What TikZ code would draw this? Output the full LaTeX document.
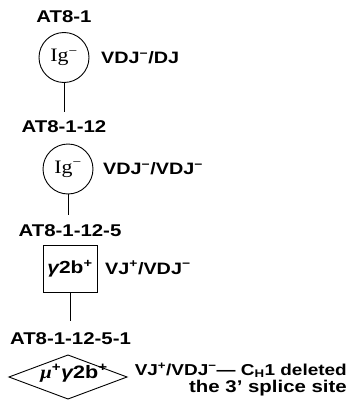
\documentclass[tikz,border=0pt]{standalone}
\usepackage{fontspec}
\setmainfont{Liberation Sans}[FakeStretch=1.2]
\newfontfamily\igfont{Liberation Serif}[FakeStretch=1.15]
\usetikzlibrary{shapes.geometric}
\tikzset{
  lbl/.style={font=\fontsize{17}{19}\selectfont\bfseries, inner sep=0pt},
  desc/.style={font=\fontsize{16.5}{19}\selectfont\bfseries, inner sep=0pt},
  cellc/.style={draw, circle, line width=0.9pt, minimum size=50pt, inner sep=0pt, font=\igfont\fontsize{19}{20}\selectfont},
  cellb/.style={draw, rectangle, line width=0.9pt, minimum width=54pt, minimum height=47pt, inner sep=0pt, font=\fontsize{17.5}{19}\selectfont\bfseries},
  celltext/.style={inner sep=0pt, font=\fontsize{18}{19}\selectfont\bfseries},
  link/.style={line width=0.9pt}
}
\begin{document}
\begin{tikzpicture}[x=1pt,y=-1pt]
\useasboundingbox (0,0) rectangle (353,404);
% labels
\node[lbl, anchor=base] (l1) at (64,23) {AT8-1};
\node[lbl, anchor=base] (l2) at (64,132) {AT8-1-12};
\node[lbl, anchor=base] (l3) at (70,236) {AT8-1-12-5};
\node[lbl, anchor=base] (l4) at (70.5,344) {AT8-1-12-5-1};
% cells
\node[cellc] (c1) at (64,57.5) {Ig\textsuperscript{−}};
\node[cellc] (c2) at (68,169) {Ig\textsuperscript{−}};
\node[cellb] (c3) at (70,268.5) {{\itshape γ}2b\textsuperscript{+}};
\coordinate (dc) at (68,377);
\draw[link, line join=miter] ([xshift=-59pt]dc) -- ([yshift=22pt]dc) -- ([xshift=59pt]dc) -- ([yshift=-22pt]dc) -- cycle;
\node[celltext, anchor=base] (c4) at (74,378) {{\igfont\itshape μ}\textsuperscript{+}{\itshape γ}2b\textsuperscript{+}};
% descriptions
\node[desc, anchor=base west] (d1) at (101,63.5) {VDJ\textsuperscript{−}/DJ};
\node[desc, anchor=base west] (d2) at (103,174.5) {VDJ\textsuperscript{−}/VDJ\textsuperscript{−}};
\node[desc, anchor=base west] (d3) at (105,274) {VJ\textsuperscript{+}/VDJ\textsuperscript{−}};
\node[desc, anchor=base east, font=\fontsize{15.8}{19}\selectfont\bfseries] (d4) at (347,375) {VJ\textsuperscript{+}/VDJ\textsuperscript{−}— C\textsubscript{H}1 deleted};
\node[desc, anchor=base east, font=\fontsize{17}{19}\selectfont\bfseries] (d5) at (347,392) {the 3' splice site};
% connectors
\draw[link, shorten >=8pt] (c1.south) -- (c1.south |- l2.north);
\draw[link, shorten >=9pt] (c2.south) -- (c2.south |- l3.north);
\draw[link, shorten >=11pt] (c3.south) -- (c3.south |- l4.north);
\end{tikzpicture}
\end{document}
